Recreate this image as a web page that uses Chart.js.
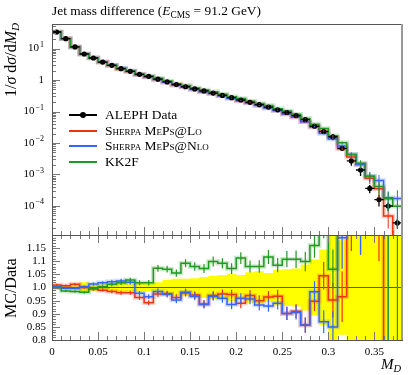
<!DOCTYPE html>
<html>
<head>
<meta charset="utf-8">
<title>Jet mass difference</title>
<script src="https://cdn.jsdelivr.net/npm/chart.js@4.4.1/dist/chart.umd.min.js"></script>
<style>
  html, body { margin: 0; padding: 0; background: #fff; }
  body { position: relative; width: 415px; height: 375px; overflow: hidden;
         font-family: "Liberation Serif", "DejaVu Serif", serif; color: #000; }
  canvas { position: absolute; left: 0; top: 0; }
  .txt { position: absolute; white-space: nowrap; z-index: 5; line-height: 1; }
  sub { font-size: 70%; vertical-align: -0.3em; line-height: 0; }
  #title { left: 52px; top: 4px; font-size: 13.4px; }
  .rot { transform-origin: 0 0; transform: rotate(-90deg); font-size: 16px; }
  #ylab { left: 3px; }
  #rlab { left: 3px; }
  #xlab { right: 14px; top: 357px; font-size: 15px; }
  #legend { left: 69px; top: 107px; font-size: 13.5px; }
  .row { position: relative; height: 15.5px; }
  .sw { position: absolute; left: 0; top: 7px; width: 28px; height: 2px; }
  .dot { position: absolute; left: 11px; top: 5px; width: 6px; height: 6px; border-radius: 50%; background: #000; }
  .lbl { position: absolute; left: 36px; top: 1px; }
</style>
</head>
<body>
<canvas id="main" width="415" height="375"></canvas>
<canvas id="ratio" width="415" height="375"></canvas>
<div class="txt" id="title">Jet mass difference (<i>E</i><sub>CMS</sub> = 91.2 GeV)</div>
<div class="txt rot" id="ylab">1/<i>σ</i> d<i>σ</i>/d<i>M<sub>D</sub></i></div>
<div class="txt rot" id="rlab">MC/Data</div>
<div class="txt" id="xlab"><i>M<sub>D</sub></i></div>
<div class="txt" id="legend"></div>
<script>
// bin edges of the M_D histogram
const binEdges = [0, 0.01, 0.02, 0.03, 0.04, 0.05, 0.06, 0.07, 0.08, 0.09,
  0.10, 0.11, 0.12, 0.13, 0.14, 0.15, 0.16, 0.17, 0.18, 0.19,
  0.20, 0.21, 0.22, 0.23, 0.24, 0.25, 0.26, 0.27, 0.28, 0.29,
  0.30, 0.31, 0.32, 0.33, 0.34, 0.35, 0.36, 0.37, 0.38];

// ALEPH data, 1/sigma dsigma/dM_D
const aleph = [33.4, 20.5, 11.2, 6.7, 5.0, 3.7, 2.93, 2.29, 1.89, 1.52,
  1.31, 1.06, 0.87, 0.72, 0.61, 0.52, 0.45, 0.385, 0.325, 0.275,
  0.232, 0.196, 0.165, 0.138, 0.113, 0.093, 0.074, 0.055, 0.034, 0.023,
  0.0158, 0.0068, 0.0027, 0.00139, 0.00036, 0.00016, 0.0001, 0.000029];
// relative data uncertainty (yellow band)
const alephErr = [0.008, 0.008, 0.010, 0.020, 0.012, 0.015, 0.015, 0.020, 0.015, 0.016,
  0.014, 0.020, 0.030, 0.033, 0.033, 0.035, 0.040, 0.045, 0.047, 0.052,
  0.048, 0.058, 0.062, 0.055, 0.068, 0.070, 0.072, 0.088, 0.107, 0.145,
  0.22, 0.18, 0.30, 0.35, 0.30, 0.40, 0.30, 0.35];

// MC / Data
const ratioLO = [1.010, 1.007, 1.012, 1.000, 0.994, 0.990, 0.985, 0.980, 0.980, 0.962,
  0.942, 0.975, 0.976, 0.962, 0.979, 0.971, 0.937, 0.970, 0.975, 0.973,
  0.940, 0.970, 0.950, 0.964, 0.967, 0.901, 0.910, 0.857, 0.948, 1.045,
  0.952, 0.965, 1.34, 1.50, 2.10, 2.20, 0.48, 0.10];
const ratioNLO = [1.003, 0.997, 0.997, 1.003, 1.013, 1.018, 1.022, 1.025, 1.020, 0.978,
  0.965, 0.985, 0.974, 0.952, 0.982, 0.966, 0.935, 0.966, 0.959, 0.935,
  0.959, 0.956, 0.933, 0.930, 0.940, 0.901, 0.905, 0.857, 0.984, 0.870,
  0.850, 1.190, 1.60, 1.50, 2.46, 4.00, 1.83, 6.00];
const ratioKK = [1.000, 0.987, 0.985, 0.982, 0.997, 1.003, 1.012, 1.018, 1.029, 1.018,
  1.018, 1.073, 1.070, 1.055, 1.092, 1.080, 1.072, 1.099, 1.092, 1.072,
  1.112, 1.080, 1.080, 1.116, 1.085, 1.108, 1.108, 1.099, 1.160, 1.250,
  1.070, 1.500, 1.60, 1.63, 2.46, 2.60, 1.70, 3.40];
// relative MC stat. uncertainty
const mcErr = [0.004, 0.004, 0.005, 0.005, 0.006, 0.006, 0.007, 0.008, 0.008, 0.009,
  0.010, 0.012, 0.012, 0.013, 0.014, 0.015, 0.016, 0.017, 0.018, 0.019,
  0.020, 0.021, 0.022, 0.024, 0.025, 0.028, 0.030, 0.034, 0.040, 0.050,
  0.070, 0.100, 0.150, 0.250, 0.350, 0.500, 0.600, 0.800];

const seriesNames = ['ALEPH Data', 'Sherpa MePs@Lo', 'Sherpa MePs@Nlo', 'KK2F'];
const seriesColors = ['#000000', '#ee3311', '#3366ff', '#229922'];

// ticks
const xTicks = [0, 0.05, 0.1, 0.15, 0.2, 0.25, 0.3, 0.35];
const xTickLabels = ['0', '0.05', '0.1', '0.15', '0.2', '0.25', '0.3', '0.35'];
const yExponents = [1, 0, -1, -2, -3, -4];
const ratioTicks = [0.8, 0.85, 0.9, 0.95, 1.0, 1.05, 1.1, 1.15];
const ratioTickLabels = ['0.8', '0.85', '0.9', '0.95', '1.0', '1.05', '1.1', '1.15'];

const centers = aleph.map((_, i) => (binEdges[i] + binEdges[i + 1]) / 2);
const mcRatios = [ratioLO, ratioNLO, ratioKK];
const mcMain = mcRatios.map(r => r.map((v, i) => v * aleph[i]));

// histogram outline: one point per left edge, plus the last right edge
function steps(vals) {
  const pts = vals.map((v, i) => ({ x: binEdges[i], y: v }));
  pts.push({ x: binEdges[vals.length], y: vals[vals.length - 1] });
  return pts;
}

function mcLines(sets) {
  const out = [];
  sets.forEach((vals, k) => {
    const c = seriesColors[k + 1];
    out.push({ data: steps(vals), stepped: 'before', borderColor: c, borderWidth: 1.5,
      pointRadius: 0, fill: false, order: 4 - k });
    out.push({ data: steps(vals), stepped: 'before', borderColor: c + '38', borderWidth: 4.5,
      pointRadius: 0, fill: false, order: 12 });
  });
  return out;
}

function errorBars(sets) {
  return {
    id: 'errbars',
    afterDatasetsDraw(chart) {
      const { ctx, chartArea: a, scales: { x, y } } = chart;
      const floor = y.min * 0.001;
      ctx.save();
      ctx.beginPath();
      ctx.rect(a.left, a.top, a.width, a.height);
      ctx.clip();
      sets.forEach(s => {
        ctx.strokeStyle = s.color;
        ctx.lineWidth = s.width;
        ctx.beginPath();
        s.vals.forEach((v, i) => {
          const e = v * s.rel[i];
          const cx = x.getPixelForValue(centers[i]);
          ctx.moveTo(cx, y.getPixelForValue(Math.max(v - e, floor)));
          ctx.lineTo(cx, y.getPixelForValue(v + e));
          if (s.hbar) {
            const yy = y.getPixelForValue(v);
            ctx.moveTo(x.getPixelForValue(binEdges[i]), yy);
            ctx.lineTo(x.getPixelForValue(binEdges[i + 1]), yy);
          }
        });
        ctx.stroke();
      });
      ctx.restore();
    }
  };
}

function axesDecor(kind) {
  return {
    id: 'axesDecor',
    afterDraw(chart) {
      const { ctx, chartArea: a, scales: { x, y } } = chart;
      const r = v => Math.round(v) + 0.5;
      ctx.save();
      ctx.strokeStyle = '#777';
      ctx.lineWidth = 1;
      ctx.beginPath();
      // x ticks
      binEdges.forEach(v => {
        const X = r(x.getPixelForValue(v));
        ctx.moveTo(X, a.bottom); ctx.lineTo(X, a.bottom - 4);
        if (kind === 'ratio') { ctx.moveTo(X, a.top); ctx.lineTo(X, a.top + 4); }
      });
      xTicks.forEach(v => {
        const X = r(x.getPixelForValue(v));
        ctx.moveTo(X, a.bottom); ctx.lineTo(X, a.bottom - 8);
        if (kind === 'ratio') { ctx.moveTo(X, a.top); ctx.lineTo(X, a.top + 8); }
      });
      // y ticks
      if (kind === 'main') {
        for (let e = -5; e <= 1; e++) {
          for (let m = 2; m <= 9; m++) {
            const v = m * Math.pow(10, e);
            if (v <= y.min || v >= y.max) continue;
            const Y = r(y.getPixelForValue(v));
            ctx.moveTo(a.left, Y); ctx.lineTo(a.left + 4, Y);
          }
        }
        yExponents.forEach(e => {
          const Y = r(y.getPixelForValue(Math.pow(10, e)));
          ctx.moveTo(a.left, Y); ctx.lineTo(a.left + 8, Y);
        });
      } else {
        for (let k = 81; k < 120; k++) {
          const Y = r(y.getPixelForValue(k / 100));
          ctx.moveTo(a.left, Y); ctx.lineTo(a.left + 4, Y);
        }
        ratioTicks.forEach(v => {
          const Y = r(y.getPixelForValue(v));
          ctx.moveTo(a.left, Y); ctx.lineTo(a.left + 8, Y);
        });
      }
      ctx.stroke();
      // frame
      ctx.strokeStyle = '#555';
      ctx.strokeRect(r(a.left), r(a.top), Math.round(a.width), Math.round(a.height));
      ctx.strokeStyle = '#999';
      ctx.lineWidth = 2;
      ctx.beginPath();
      ctx.moveTo(a.right, a.top); ctx.lineTo(a.right, a.bottom);
      ctx.stroke();
      // labels
      ctx.fillStyle = '#000';
      ctx.textBaseline = 'middle';
      ctx.textAlign = 'right';
      const big = '11px "Liberation Serif"';
      const small = '8px "Liberation Serif"';
      if (kind === 'main') {
        yExponents.forEach(e => {
          const Y = y.getPixelForValue(Math.pow(10, e));
          ctx.font = big;
          if (e === 0) { ctx.fillText('1', a.left - 8, Y); return; }
          const ex = e < 0 ? '\u2212' + (-e) : String(e);
          ctx.font = small;
          const w = ctx.measureText(ex).width;
          ctx.fillText(ex, a.left - 8, Y - 4);
          ctx.font = big;
          ctx.fillText('10', a.left - 9 - w, Y);
        });
      } else {
        ctx.font = big;
        ratioTicks.forEach((v, i) => ctx.fillText(ratioTickLabels[i], a.left - 6, y.getPixelForValue(v)));
        ctx.textAlign = 'center';
        xTicks.forEach((v, i) => ctx.fillText(xTickLabels[i], x.getPixelForValue(v), a.bottom + 12));
      }
      ctx.restore();
    }
  };
}

const xScale = { type: 'linear', min: binEdges[0], max: binEdges[binEdges.length - 1], bounds: 'data', display: false };
const baseOptions = {
  responsive: false, animation: false, events: [],
  plugins: { legend: { display: false }, tooltip: { enabled: false } }
};

// main panel
const mainSets = [{
  data: centers.map((x, i) => ({ x, y: aleph[i] })),
  showLine: false, pointRadius: 2.6, pointBackgroundColor: '#000', pointBorderWidth: 0, order: 0
}].concat(mcLines(mcMain));

new Chart(document.getElementById('main'), {
  type: 'line',
  data: { datasets: mainSets },
  options: Object.assign({}, baseOptions, {
    layout: { padding: { left: 52, right: 13, top: 24, bottom: 140 } },
    scales: { x: xScale, y: { type: 'logarithmic', min: 1.2e-5, max: 60, bounds: 'data', display: false } }
  }),
  plugins: [
    errorBars([
      { vals: aleph, rel: alephErr, color: '#000', width: 1.3, hbar: true },
      ...mcMain.map((vals, k) => ({ vals, rel: mcErr, color: seriesColors[k + 1], width: 1 }))
    ]),
    axesDecor('main')
  ]
});

// ratio panel
const ratioSets = [
  { data: steps(alephErr.map(e => 1 - e)), stepped: 'before', borderWidth: 0, borderColor: 'transparent',
    pointRadius: 0, fill: false, order: 30 },
  { data: steps(alephErr.map(e => 1 + e)), stepped: 'before', borderWidth: 0, borderColor: 'transparent',
    pointRadius: 0, fill: '-1', backgroundColor: '#ffff00', order: 29 },
  { data: [{ x: binEdges[0], y: 1 }, { x: binEdges[binEdges.length - 1], y: 1 }], borderColor: '#555',
    borderWidth: 1, pointRadius: 0, fill: false, order: 20 }
].concat(mcLines(mcRatios));

new Chart(document.getElementById('ratio'), {
  type: 'line',
  data: { datasets: ratioSets },
  options: Object.assign({}, baseOptions, {
    layout: { padding: { left: 52, right: 13, top: 235, bottom: 35 } },
    scales: { x: xScale, y: { type: 'linear', min: 0.8, max: 1.2, bounds: 'data', display: false } }
  }),
  plugins: [
    errorBars(mcRatios.map((vals, k) => ({ vals, rel: mcErr, color: seriesColors[k + 1], width: 1.2 }))),
    axesDecor('ratio')
  ]
});

// legend
const legend = document.getElementById('legend');
seriesNames.forEach((name, i) => {
  const row = document.createElement('div');
  row.className = 'row';
  row.innerHTML = '<div class="sw" style="background:' + seriesColors[i] + '"></div>' +
    (i === 0 ? '<div class="dot"></div>' : '') +
    '<div class="lbl" style="font-variant:' + (i === 0 ? 'normal' : 'small-caps') + '">' + name + '</div>';
  legend.appendChild(row);
});

// axis titles
const ylab = document.getElementById('ylab');
ylab.style.top = (23 + ylab.offsetWidth) + 'px';
const rlab = document.getElementById('rlab');
rlab.style.top = (287.5 + rlab.offsetWidth / 2) + 'px';
</script>
</body>
</html>
